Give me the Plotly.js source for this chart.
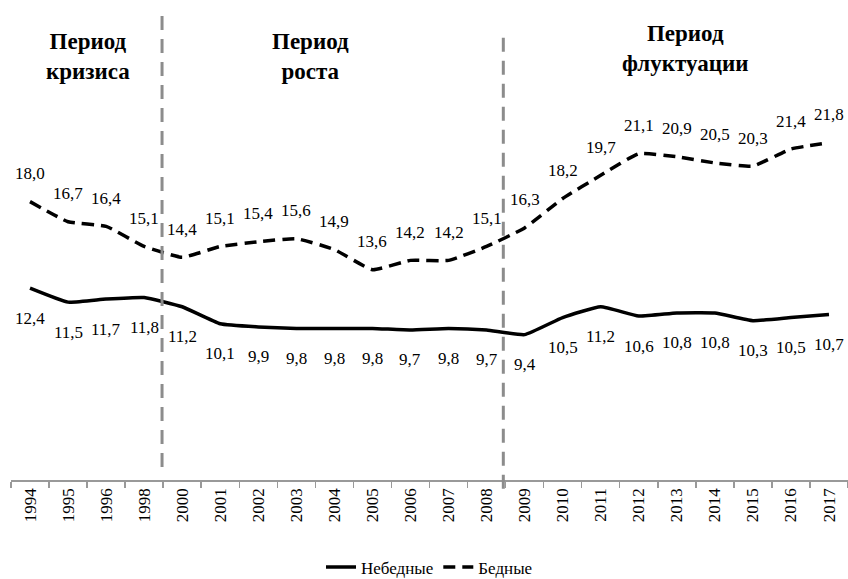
<!DOCTYPE html>
<html>
<head>
<meta charset="utf-8">
<script src="https://cdn.plot.ly/plotly-3.0.1.min.js"></script>
<style>html,body{margin:0;padding:0;background:#fff;}#chart{width:848px;height:579px;}</style>
</head>
<body>
<div id="chart"></div>
<script>
var years = ["1994","1995","1996","1998","2000","2001","2002","2003","2004","2005","2006","2007","2008","2009","2010","2011","2012","2013","2014","2015","2016","2017"];
var nonPoor = [12.4,11.5,11.7,11.8,11.2,10.1,9.9,9.8,9.8,9.8,9.7,9.8,9.7,9.4,10.5,11.2,10.6,10.8,10.8,10.3,10.5,10.7];
var poor = [18.0,16.7,16.4,15.1,14.4,15.1,15.4,15.6,14.9,13.6,14.2,14.2,15.1,16.3,18.2,19.7,21.1,20.9,20.5,20.3,21.4,21.8];
var seriesNames = ["Небедные","Бедные"];
var periodLabels = ["<b>Период<br>кризиса</b>","<b>Период<br>роста</b>","<b>Период<br>флуктуации</b>"];
// period boundaries: after "1998" and after "2008"
var boundaryAfter = ["1998","2008"];

var FONT = "'Liberation Serif', 'DejaVu Serif', serif";
function fmt(v){ return v.toFixed(1).replace(".", ","); }
var idx = years.map(function(_, i){ return i; });

var traces = [
  {x: idx, y: nonPoor, name: seriesNames[0], type: "scatter", mode: "lines",
   line: {color: "#000", width: 3.5, shape: "spline", smoothing: 0.4}},
  {x: idx, y: poor, name: seriesNames[1], type: "scatter", mode: "lines",
   line: {color: "#000", width: 3.5, dash: "12px,7px", shape: "spline", smoothing: 0.4}}
];

var annotations = [];
idx.forEach(function(i){
  annotations.push({x: i, y: poor[i], xref: "x", yref: "y", text: fmt(poor[i]), showarrow: false,
    yshift: 28, font: {family: FONT, size: 17, color: "#000"}});
  annotations.push({x: i, y: nonPoor[i], xref: "x", yref: "y", text: fmt(nonPoor[i]), showarrow: false,
    yshift: -30, font: {family: FONT, size: 17, color: "#000"}});
});
var periodPos = [[0.092, 0.912], [0.358, 0.912], [0.805, 0.931]];
periodLabels.forEach(function(t, i){
  annotations.push({x: periodPos[i][0], y: periodPos[i][1], xref: "paper", yref: "paper", text: t,
    showarrow: false, xanchor: "center", yanchor: "middle",
    font: {family: FONT, size: 23, color: "#000"}});
});

var b1 = years.indexOf(boundaryAfter[0]) + 0.47;
var b2 = years.indexOf(boundaryAfter[1]) + 0.44;
var shapes = [
  {type: "line", xref: "x", yref: "paper", x0: b1, x1: b1, y0: 1.0, y1: 0.022,
   line: {color: "#8c8c8c", width: 3, dash: "14px,9px"}},
  {type: "line", xref: "x", yref: "paper", x0: b2, x1: b2, y0: 0.953, y1: -0.035,
   line: {color: "#8c8c8c", width: 3, dash: "14px,9px"}}
];

var layout = {
  width: 848, height: 579,
  margin: {l: 11, r: 0, t: 16, b: 99},
  paper_bgcolor: "#fff", plot_bgcolor: "#fff",
  font: {family: FONT, size: 16, color: "#000"},
  showlegend: true,
  legend: {orientation: "h", x: 0.5, xanchor: "center", yref: "container", y: 0.02, yanchor: "middle",
           font: {family: FONT, size: 17, color: "#000"}},
  xaxis: {type: "linear", range: [-0.5, years.length - 0.5], showgrid: false, zeroline: false,
          showline: true, linecolor: "#999", linewidth: 1.5, automargin: false,
          tickmode: "array", tickvals: idx, ticktext: years, ticks: "",
          minor: {tickmode: "linear", tick0: -0.5, dtick: 1, ticks: "outside", ticklen: 6, tickcolor: "#999", tickwidth: 1.5, showgrid: false},
          tickangle: -90, tickfont: {family: FONT, size: 17, color: "#000"}, fixedrange: true},
  yaxis: {range: [0, 30], visible: false, showgrid: false, zeroline: false, fixedrange: true},
  annotations: annotations,
  shapes: shapes
};

Plotly.newPlot("chart", traces, layout, {displayModeBar: false, staticPlot: true});
</script>
</body>
</html>
